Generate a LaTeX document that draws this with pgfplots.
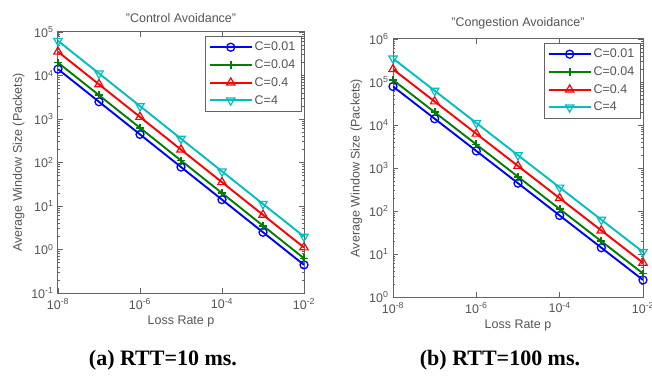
\documentclass[border=0pt]{standalone}
\usepackage{pgfplots}
\pgfplotsset{compat=1.18}
\usepackage{fontspec}
\setmainfont{Liberation Sans}
\newfontfamily\capfont{Liberation Serif}
\definecolor{mblue}{rgb}{0,0,1}
\definecolor{mgreen}{rgb}{0,0.5,0}
\definecolor{mred}{rgb}{1,0,0}
\definecolor{mcyan}{rgb}{0,0.75,0.75}
\definecolor{txt}{RGB}{85,85,85}
\definecolor{axc}{RGB}{100,100,100}
\newcommand{\fs}{\fontsize{12.5}{14}\selectfont}
\pgfplotsset{
  scale only axis,
  tick align=inside,
  axis line style={axc, line width=1pt},
  every tick/.style={axc, line width=0.6pt},
  major tick length=5pt, minor tick length=2.5pt,
  tick label style={font=\fs, text=txt},
  xticklabel style={yshift=-2pt},
  yticklabel style={xshift=-1pt},
  label style={font=\fs, text=txt},
  title style={font=\fs, text=txt},
  legend style={at={(0.99,0.985)}, anchor=north east, draw=axc, font=\fs, text=txt, row sep=3.5pt, inner sep=4pt, cells={anchor=west}},
  legend image code/.code={\draw[mark repeat=2,mark phase=2,#1] plot coordinates {(0pt,0pt) (21pt,0pt) (42pt,0pt)};},
  s1/.style={mblue, line width=1.9pt, mark size=4pt, mark=o, mark options={solid, fill=none, line width=1.3pt}},
  s2/.style={mgreen, line width=1.9pt, mark size=4pt, mark=+, mark options={solid, line width=1.7pt}},
  s3/.style={mred, line width=1.9pt, mark size=4.8pt, mark=triangle, mark options={solid, fill=none, line width=1.2pt}},
  s4/.style={mcyan, line width=1.9pt, mark size=4.8pt, mark=triangle, mark options={solid, fill=none, rotate=180, line width=1.2pt}},
}
\pgfplotstableread{
p      c1      c2      c3      c4
1e-8   14000   19800   35200   62600
1e-7   2490    3520    6260    11140
1e-6   443     626     1114    1981
1e-5   78.7    111     198     352
1e-4   14.0    19.8    35.2    62.6
1e-3   2.49    3.52    6.26    11.14
1e-2   0.443   0.626   1.114   1.981
}\tabA
\pgfplotstableread{
p      c1      c2      c3      c4
1e-8   78700   111300  198000  352000
1e-7   14000   19800   35200   62600
1e-6   2490    3520    6260    11140
1e-5   443     626     1114    1981
1e-4   78.7    111     198     352
1e-3   14.0    19.8    35.2    62.6
1e-2   2.49    3.52    6.26    11.14
}\tabB
\begin{document}
\begin{tikzpicture}
\useasboundingbox (0pt,0pt) rectangle (652pt,375pt);
\begin{axis}[xmode=log, ymode=log,
  at={(58pt,82pt)}, anchor=south west, width=246pt, height=261pt,
  xmin=1e-8, xmax=1e-2,
  xtick={1e-8,1e-6,1e-4,1e-2},
  xticklabels={10\textsuperscript{-8},10\textsuperscript{-6},10\textsuperscript{-4},10\textsuperscript{-2}},
  minor xtick={},
  ymin=1e-1, ymax=1e5,
  ytick={1e-1,1e0,1e1,1e2,1e3,1e4,1e5},
  yticklabels={10\textsuperscript{-1},10\textsuperscript{0},10\textsuperscript{1},10\textsuperscript{2},10\textsuperscript{3},10\textsuperscript{4},10\textsuperscript{5}},
  xlabel={Loss Rate p},
  ylabel={Average Window Size (Packets)},
  title={"Control Avoidance"}]
\addplot[s1] table[x=p,y=c1]{\tabA};
\addplot[s2] table[x=p,y=c2]{\tabA};
\addplot[s3] table[x=p,y=c3]{\tabA};
\addplot[s4] table[x=p,y=c4]{\tabA};
\legend{C=0.01,C=0.04,C=0.4,C=4}
\end{axis}
\begin{axis}[xmode=log, ymode=log,
  at={(393pt,78pt)}, anchor=south west, width=250pt, height=258pt,
  xmin=1e-8, xmax=1e-2,
  xtick={1e-8,1e-6,1e-4,1e-2},
  xticklabels={10\textsuperscript{-8},10\textsuperscript{-6},10\textsuperscript{-4},10\textsuperscript{-2}},
  minor xtick={},
  ymin=1e0, ymax=1e6,
  ytick={1e0,1e1,1e2,1e3,1e4,1e5,1e6},
  yticklabels={10\textsuperscript{0},10\textsuperscript{1},10\textsuperscript{2},10\textsuperscript{3},10\textsuperscript{4},10\textsuperscript{5},10\textsuperscript{6}},
  xlabel={Loss Rate p},
  ylabel={Average Window Size (Packets)},
  title={"Congestion Avoidance"}]
\addplot[s1] table[x=p,y=c1]{\tabB};
\addplot[s2] table[x=p,y=c2]{\tabB};
\addplot[s3] table[x=p,y=c3]{\tabB};
\addplot[s4] table[x=p,y=c4]{\tabB};
\legend{C=0.01,C=0.04,C=0.4,C=4}
\end{axis}
\node[font=\capfont\bfseries\fontsize{22}{24}\selectfont] at (163pt,15pt) {(a) RTT=10 ms.};
\node[font=\capfont\bfseries\fontsize{22}{24}\selectfont] at (500pt,15pt) {(b) RTT=100 ms.};
\end{tikzpicture}
\end{document}
